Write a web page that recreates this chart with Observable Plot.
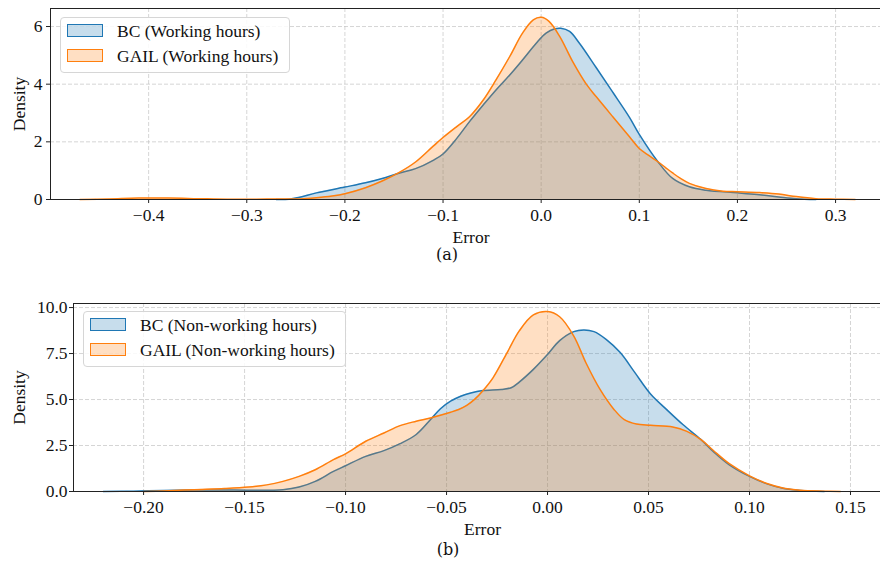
<!DOCTYPE html>
<html>
<head>
<meta charset="utf-8">
<script src="https://cdn.jsdelivr.net/npm/d3@7"></script>
<script src="https://cdn.jsdelivr.net/npm/@observablehq/plot@0.6"></script>
<style>
  html, body { margin: 0; padding: 0; background: #fff; }
  #wrap { position: relative; width: 880px; height: 570px; overflow: hidden; background: #fff; }
  .panel { position: absolute; left: 0; width: 892px; height: 250px; }
  .panel svg { max-width: none !important; }
  .legend { position: absolute; border: 1px solid #d6d6d6; border-radius: 4px; background: rgba(255,255,255,0.85); box-sizing: border-box; font-family: "Liberation Serif", "Times New Roman", serif; font-size: 17.5px; color: #111; }
  .sw { position: absolute; width: 36px; height: 13px; box-sizing: border-box; border-width: 1.5px; border-style: solid; }
  .lt { position: absolute; line-height: 17.5px; white-space: nowrap; }
  .cap { position: absolute; font-family: "DejaVu Serif", serif; font-size: 16px; line-height: 16px; color: #111; transform: translateX(-50%); white-space: nowrap; }
</style>
</head>
<body>
<div id="wrap"></div>
<script>
// ---------- Data: panel (a) Working hours ----------
const bcWorkX = [-0.27, -0.257, -0.246, -0.229, -0.2, -0.179, -0.162, -0.145, -0.128, -0.11, -0.1, -0.086, -0.073, -0.059, -0.046, -0.032, -0.019, -0.005, 0.005, 0.014, 0.02, 0.029, 0.039, 0.056, 0.073, 0.09, 0.1, 0.119, 0.134, 0.151, 0.168, 0.2, 0.22, 0.242, 0.26, 0.28];
const bcWorkD = [0, 0.01, 0.08, 0.23, 0.43, 0.58, 0.73, 0.91, 1.07, 1.36, 1.58, 2.12, 2.70, 3.28, 3.80, 4.32, 4.84, 5.42, 5.77, 5.92, 5.94, 5.83, 5.42, 4.58, 3.72, 2.85, 2.26, 1.31, 0.73, 0.44, 0.32, 0.23, 0.17, 0.09, 0.03, 0];
const gailWorkX = [-0.47, -0.44, -0.41, -0.38, -0.35, -0.32, -0.29, -0.26, -0.246, -0.229, -0.213, -0.2, -0.179, -0.162, -0.145, -0.128, -0.11, -0.1, -0.086, -0.073, -0.059, -0.046, -0.032, -0.019, -0.008, 0.0, 0.008, 0.019, 0.032, 0.046, 0.056, 0.073, 0.09, 0.1, 0.11, 0.119, 0.127, 0.134, 0.142, 0.151, 0.168, 0.185, 0.2, 0.222, 0.242, 0.26, 0.28, 0.30, 0.32];
const gailWorkD = [0, 0.02, 0.05, 0.05, 0.03, 0.01, 0.01, 0.02, 0.02, 0.06, 0.12, 0.20, 0.41, 0.64, 0.93, 1.30, 1.85, 2.15, 2.53, 2.87, 3.45, 4.15, 4.96, 5.77, 6.23, 6.32, 6.18, 5.65, 4.79, 4.0, 3.57, 2.87, 2.18, 1.77, 1.52, 1.31, 1.10, 0.92, 0.73, 0.56, 0.38, 0.29, 0.27, 0.24, 0.19, 0.10, 0.03, 0.01, 0];

// ---------- Data: panel (b) Non-working hours ----------
const bcNonX = [-0.22, -0.205, -0.19, -0.175, -0.16, -0.148, -0.131, -0.123, -0.115, -0.106, -0.1, -0.09, -0.081, -0.073, -0.065, -0.058, -0.053, -0.048, -0.043, -0.038, -0.032, -0.023, -0.018, -0.014, -0.007, 0.0, 0.006, 0.013, 0.018, 0.023, 0.029, 0.036, 0.043, 0.051, 0.059, 0.067, 0.076, 0.082, 0.09, 0.1, 0.109, 0.117, 0.125, 0.137];
const bcNonD = [0, 0.02, 0.06, 0.08, 0.08, 0.07, 0.10, 0.24, 0.55, 1.09, 1.40, 1.91, 2.22, 2.60, 3.10, 3.90, 4.50, 4.91, 5.18, 5.36, 5.49, 5.55, 5.64, 5.95, 6.64, 7.45, 8.20, 8.69, 8.78, 8.69, 8.27, 7.55, 6.50, 5.30, 4.45, 3.64, 2.82, 2.18, 1.45, 0.82, 0.40, 0.16, 0.05, 0];
const gailNonX = [-0.2, -0.19, -0.175, -0.16, -0.148, -0.139, -0.131, -0.123, -0.115, -0.106, -0.1, -0.09, -0.081, -0.073, -0.065, -0.058, -0.048, -0.044, -0.04, -0.036, -0.032, -0.027, -0.02, -0.014, -0.007, 0.0, 0.006, 0.013, 0.019, 0.026, 0.033, 0.038, 0.044, 0.051, 0.062, 0.069, 0.076, 0.082, 0.09, 0.1, 0.109, 0.117, 0.125, 0.137, 0.145];
const gailNonD = [0, 0.03, 0.10, 0.16, 0.24, 0.36, 0.55, 0.82, 1.18, 1.73, 2.05, 2.73, 3.18, 3.58, 3.82, 4.0, 4.31, 4.46, 4.68, 5.02, 5.48, 6.18, 7.55, 8.73, 9.60, 9.78, 9.50, 8.45, 7.0, 5.55, 4.45, 3.91, 3.67, 3.6, 3.51, 3.27, 2.82, 2.24, 1.51, 0.85, 0.42, 0.18, 0.07, 0.02, 0];

// ---------- Ticks ----------
const xTicksA = [-0.4, -0.3, -0.2, -0.1, 0.0, 0.1, 0.2, 0.3];
const xLabelsA = ["\u22120.4", "\u22120.3", "\u22120.2", "\u22120.1", "0.0", "0.1", "0.2", "0.3"];
const yTicksA = [0, 2, 4, 6];
const yLabelsA = ["0", "2", "4", "6"];
const xTicksB = [-0.20, -0.15, -0.10, -0.05, 0.00, 0.05, 0.10, 0.15];
const xLabelsB = ["\u22120.20", "\u22120.15", "\u22120.10", "\u22120.05", "0.00", "0.05", "0.10", "0.15"];
const yTicksB = [0, 2.5, 5, 7.5, 10];
const yLabelsB = ["0.0", "2.5", "5.0", "7.5", "10.0"];

const seriesNamesA = ["BC (Working hours)", "GAIL (Working hours)"];
const seriesNamesB = ["BC (Non-working hours)", "GAIL (Non-working hours)"];
const colors = ["#1f77b4", "#ff7f0e"];

const rows = (xs, ds) => xs.map((x, i) => ({x, d: ds[i]}));

function panel(opts) {
  const {bc, gail, xTicks, xLabels, yTicks, yLabels, xDomain, yDomain, ml, mt, mb, yLabDx, tickPadY} = opts;
  const grid = {stroke: "#bdbdbd", strokeOpacity: 0.8, strokeWidth: 0.8, strokeDasharray: "4,2"};
  const curve = "catmull-rom";
  const svg = Plot.plot({
    width: 892, height: 250,
    marginLeft: ml, marginRight: 1, marginTop: mt, marginBottom: mb,
    x: {domain: xDomain},
    y: {domain: yDomain},
    style: {fontFamily: "'Liberation Serif', 'Times New Roman', serif", fontSize: "17.5px", color: "#111", background: "white", maxWidth: "none"},
    marks: [
      Plot.gridX(xTicks, grid),
      Plot.gridY(yTicks, grid),
      Plot.areaY(bc, {x: "x", y: "d", fill: colors[0], fillOpacity: 0.25, curve}),
      Plot.lineY(bc, {x: "x", y: "d", stroke: colors[0], strokeWidth: 1.5, curve}),
      Plot.areaY(gail, {x: "x", y: "d", fill: colors[1], fillOpacity: 0.25, curve}),
      Plot.lineY(gail, {x: "x", y: "d", stroke: colors[1], strokeWidth: 1.5, curve}),
      Plot.frame({stroke: "#222", strokeWidth: 1}),
      Plot.axisX({ticks: xTicks, tickFormat: d => xLabels[xTicks.indexOf(d)], tickSize: 4, tickPadding: 5, label: null, stroke: "#222"}),
      Plot.axisY({ticks: yTicks, tickFormat: d => yLabels[yTicks.indexOf(d)], tickSize: 4, tickPadding: tickPadY, label: null, stroke: "#222"}),
      Plot.text(["Error"], {text: d => d, frameAnchor: "bottom", lineAnchor: "middle", textAnchor: "middle", dy: 37.5, fill: "#111"}),
      Plot.text(["Density"], {text: d => d, frameAnchor: "left", lineAnchor: "middle", textAnchor: "middle", rotate: -90, dx: yLabDx, fill: "#111"})
    ]
  });
  svg.style.maxWidth = "none";
  svg.style.width = "892px";
  svg.style.height = "250px";
  return svg;
}

const wrap = document.getElementById("wrap");

const pa = panel({
  bc: rows(bcWorkX, bcWorkD), gail: rows(gailWorkX, gailWorkD),
  xTicks: xTicksA, xLabels: xLabelsA, yTicks: yTicksA, yLabels: yLabelsA,
  xDomain: [-0.5, 0.357], yDomain: [0, 6.625], ml: 50, mt: 8, mb: 51, yLabDx: -31, tickPadY: 4
});
const da = document.createElement("div"); da.className = "panel"; da.style.top = "0px"; da.appendChild(pa); wrap.appendChild(da);

const pb = panel({
  bc: rows(bcNonX, bcNonD), gail: rows(gailNonX, gailNonD),
  xTicks: xTicksB, xLabels: xLabelsB, yTicks: yTicksB, yLabels: yLabelsB,
  xDomain: [-0.2347, 0.1703], yDomain: [0, 10.22], ml: 73, mt: 13, mb: 49, yLabDx: -54, tickPadY: 2
});
const db = document.createElement("div"); db.className = "panel"; db.style.top = "290px"; db.appendChild(pb); wrap.appendChild(db);

function legend(left, top, width, names) {
  const box = document.createElement("div");
  box.className = "legend";
  Object.assign(box.style, {left: left + "px", top: top + "px", width: width + "px", height: "56px"});
  names.forEach((name, i) => {
    const sw = document.createElement("div");
    sw.className = "sw";
    Object.assign(sw.style, {left: "6px", top: (6 + 25 * i) + "px", borderColor: colors[i], background: i === 0 ? "rgba(31,119,180,0.25)" : "rgba(255,127,14,0.25)"});
    box.appendChild(sw);
    const t = document.createElement("div");
    t.className = "lt";
    t.textContent = name;
    Object.assign(t.style, {left: "56px", top: (4.5 + 25 * i) + "px"});
    box.appendChild(t);
  });
  wrap.appendChild(box);
}
legend(60, 17, 230, seriesNamesA);
legend(83, 311, 263, seriesNamesB);

function caption(text, cx, top) {
  const c = document.createElement("div");
  c.className = "cap"; c.textContent = text;
  Object.assign(c.style, {left: cx + "px", top: top + "px"});
  wrap.appendChild(c);
}
caption("(a)", 447, 247);
caption("(b)", 448, 542);
</script>
</body>
</html>
